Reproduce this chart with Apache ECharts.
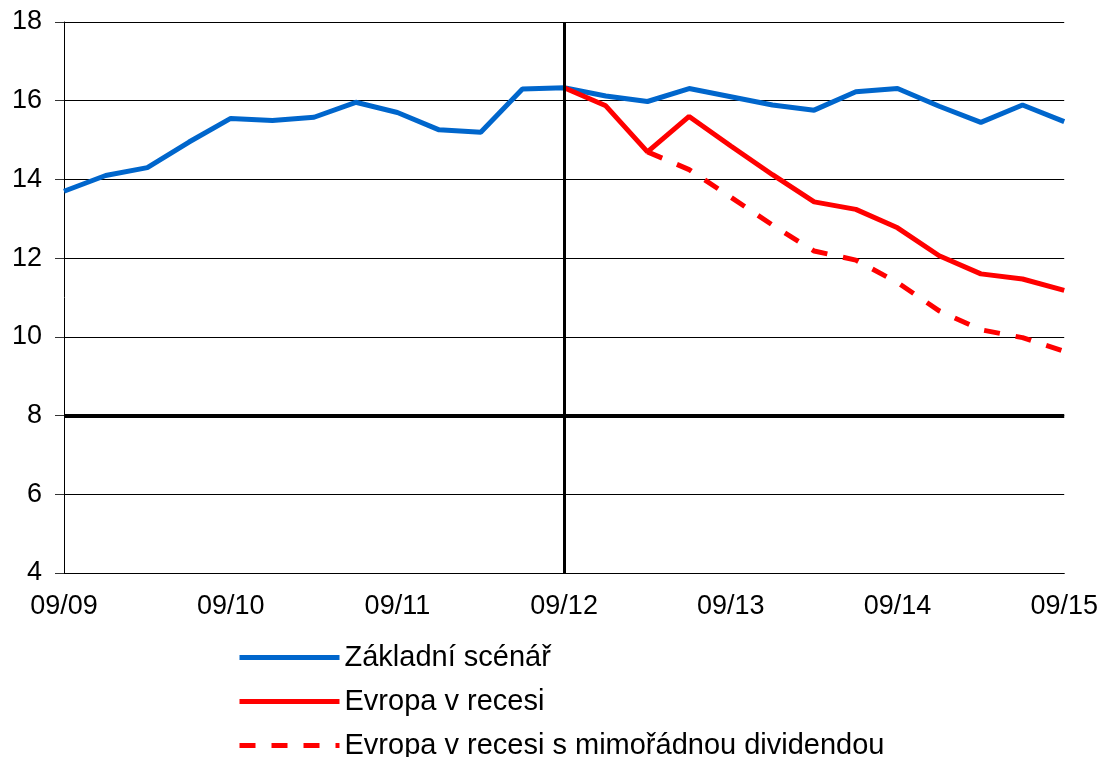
<!DOCTYPE html>
<html>
<head>
<meta charset="utf-8">
<script src="https://cdn.jsdelivr.net/npm/echarts@6/dist/echarts.min.js"></script>
<style>
  html, body { margin: 0; padding: 0; background: #fff; }
  #chart { width: 1101px; height: 757px; }
</style>
</head>
<body>
<div id="chart"></div>
<script>
// quarterly dates, labelled every 4th
const dates = [
  '09/09', '12/09', '03/10', '06/10', '09/10', '12/10', '03/11', '06/11', '09/11',
  '12/11', '03/12', '06/12', '09/12', '12/12', '03/13', '06/13', '09/13', '12/13',
  '03/14', '06/14', '09/14', '12/14', '03/15', '06/15', '09/15'
]
const baseline = [13.7, 14.1, 14.3, 14.95, 15.55, 15.5, 15.58, 15.96, 15.7, 15.26, 15.2, 16.3, 16.33,
  16.12, 15.98, 16.31, 16.1, 15.89, 15.76, 16.23, 16.31, 15.86, 15.45, 15.89, 15.47]
const recession = [null, null, null, null, null, null, null, null, null, null, null, null, 16.33,
  15.87, 14.7, 15.6, 14.85, 14.12, 13.43, 13.24, 12.77, 12.06, 11.6, 11.47, 11.18]
const recessionDividend = [null, null, null, null, null, null, null, null, null, null, null, null, null,
  null, 14.7, 14.25, 13.55, 12.84, 12.18, 11.95, 11.38, 10.66, 10.18, 9.98, 9.63]
const yTicks = [4, 6, 8, 10, 12, 14, 16, 18]
const thresholdLevel = 8
const splitDate = '09/12'

const chart = echarts.init(document.getElementById('chart'), null, { renderer: 'canvas' })

const font = 'Liberation Sans, Arial, sans-serif'

const option = {
  backgroundColor: '#fff',
  animation: false,
  grid: { left: 64, right: 36, top: 22, bottom: 184 },
  legend: {
    orient: 'vertical',
    left: 237,
    top: 642,
    padding: 0,
    height: 140,
    itemWidth: 100,
    itemHeight: 6,
    itemGap: 13,
    itemStyle: { opacity: 0 },
    lineStyle: { width: 5 },
    textStyle: { fontFamily: font, fontSize: 29, color: '#000', lineHeight: 31 },
    data: ['Základní scénář', 'Evropa v recesi', 'Evropa v recesi s mimořádnou dividendou']
  },
  xAxis: {
    type: 'category',
    data: dates,
    boundaryGap: false,
    axisLine: { show: true, lineStyle: { color: '#000', width: 1 } },
    axisTick: { show: false },
    axisLabel: {
      interval: 3,
      color: '#000',
      fontFamily: font,
      fontSize: 27,
      margin: 20,
      showMaxLabel: true
    },
    splitLine: { show: false }
  },
  yAxis: {
    type: 'value',
    min: yTicks[0],
    max: yTicks[yTicks.length - 1],
    interval: 2,
    axisLine: { show: true, lineStyle: { color: '#000', width: 1 } },
    axisTick: { show: true, length: 9, lineStyle: { color: '#333' } },
    axisLabel: { color: '#000', fontFamily: font, fontSize: 27, margin: 22 },
    splitLine: { show: true, lineStyle: { color: '#000', width: 1 } }
  },
  series: [
    {
      name: 'Základní scénář',
      type: 'line',
      data: baseline,
      symbol: 'none',
      lineStyle: { color: '#0066CC', width: 5 },
      itemStyle: { color: '#0066CC' },
      z: 3,
      markLine: {
        silent: true,
        symbol: 'none',
        label: { show: false },
        data: [
          { yAxis: thresholdLevel, lineStyle: { color: '#000', width: 4, type: 'solid' } },
          { xAxis: splitDate, lineStyle: { color: '#000', width: 3, type: 'solid' } }
        ]
      }
    },
    {
      name: 'Evropa v recesi',
      type: 'line',
      data: recession,
      symbol: 'none',
      lineStyle: { color: '#FF0000', width: 5 },
      itemStyle: { color: '#FF0000' },
      z: 4
    },
    {
      name: 'Evropa v recesi s mimořádnou dividendou',
      type: 'line',
      data: recessionDividend,
      symbol: 'none',
      lineStyle: { color: '#FF0000', width: 5, type: [16, 16] },
      itemStyle: { color: '#FF0000' },
      z: 4
    }
  ]
}

chart.setOption(option)
</script>
</body>
</html>
